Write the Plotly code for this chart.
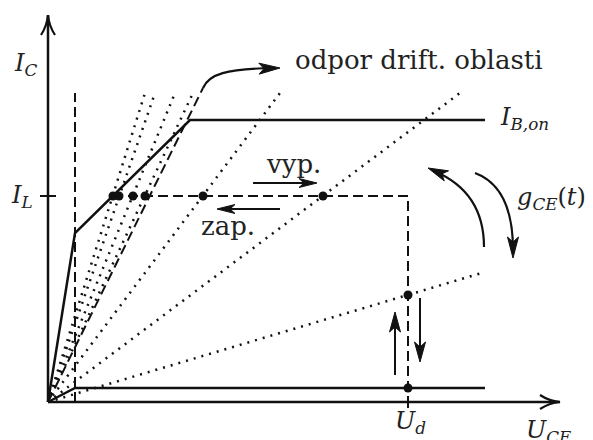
import math
import plotly.graph_objects as go

# schematic output characteristics, drawing units (U_CE right, I_C up)
ib_on_u = [0, 27, 142, 437]
ib_on_i = [0, 169, 282, 282]
ib_off_u = [0, 27, 437]
ib_off_i = [0, 14, 14]
drift_u = [0, 155]
drift_i = [0, 314]
gce_u = [97, 107, 127, 145, 232, 412, 437]   # ends of g_CE(t) lines
gce_i = [309, 309, 309, 309, 309, 309, 130]
sat_u = [27, 27]
sat_i = [0, 309]
path_u = [65, 360, 360]                      # switching trajectory
path_i = [206, 206, 0]
pts_u = [65, 71, 85, 97, 155, 275, 360, 360]
pts_i = [206, 206, 206, 206, 206, 206, 107, 14]
I_L = 206
U_d = 360
u_max, i_max = 512, 387

LINE = '#111111'
TXT = '#222222'
SERIF = 'DejaVu Serif'

fig = go.Figure()
shapes = []


def seg(us, vs, **line):
    fig.add_trace(go.Scatter(x=us, y=vs, mode='lines',
                             line=dict(color=LINE, **line), hoverinfo='skip'))


def head(x, y, dx, dy, L=19, w=5.5, notch=5):
    n = math.hypot(dx, dy)
    dx, dy = dx / n, dy / n
    px, py = -dy, dx
    bx, by = x - L * dx, y - L * dy
    nx, ny = x - (L - notch) * dx, y - (L - notch) * dy
    shapes.append(dict(type='path', xref='x', yref='y',
                       path=f"M {x},{y} L {bx + w * px},{by + w * py} L {nx},{ny} "
                            f"L {bx - w * px},{by - w * py} Z",
                       fillcolor=LINE, line=dict(color=LINE, width=1)))


def open_head(x, y, dx, dy, L=20, w=7):
    n = math.hypot(dx, dy)
    dx, dy = dx / n, dy / n
    px, py = -dy, dx
    bx, by = x - L * dx, y - L * dy
    cx, cy = x - 0.55 * L * dx, y - 0.55 * L * dy
    shapes.append(dict(type='path', xref='x', yref='y',
                       path=f"M {bx + w * px},{by + w * py} Q {cx + 0.15 * w * px},{cy + 0.15 * w * py} {x},{y} "
                            f"Q {cx - 0.15 * w * px},{cy - 0.15 * w * py} {bx - w * px},{by - w * py}",
                       line=dict(color=LINE, width=2.2)))


def curve(path):
    shapes.append(dict(type='path', xref='x', yref='y', path=path,
                       line=dict(color=LINE, width=2.2)))


# fan of conductance lines g_CE(t)
xs, ys = [], []
for u, i in zip(gce_u, gce_i):
    xs += [0, u, None]
    ys += [0, i, None]
seg(xs, ys, width=2.5, dash='2px,6px')

seg(sat_u, sat_i, width=2, dash='10px,5px')
seg(drift_u, drift_i, width=2, dash='10px,5px')
seg(path_u, path_i, width=2, dash='10px,5px')
seg(ib_on_u, ib_on_i, width=2.5)
seg(ib_off_u, ib_off_i, width=2.5)

# axes and ticks
seg([0, u_max], [0, 0], width=2.5)
seg([0, 0], [0, i_max], width=2.5)
open_head(u_max, 0, 1, 0)
open_head(0, i_max, 0, 1)
seg([-8, 8], [I_L, I_L], width=2)
seg([U_d, U_d], [-6, 0], width=2)

fig.add_trace(go.Scatter(x=pts_u, y=pts_i, mode='markers',
                         marker=dict(color=LINE, size=9), hoverinfo='skip'))

# straight arrows
seg([205, 258], [219, 219], width=2)
head(269, 219, 1, 0, L=18, w=4.5)
seg([232, 180], [193, 193], width=2)
head(169, 193, -1, 0, L=18, w=4.5)
seg([347, 347], [27, 80], width=2)
head(347, 90, 0, 1, L=20, w=5.5)
seg([372, 372], [104, 52], width=2)
head(372, 40, 0, -1, L=20, w=5.5)

# curved arrows
curve("M 155,314 C 161,328 178,333 225,334")
head(232, 334, 1, 0.03, L=21, w=5.5)
curve("M 436,155 Q 436,210 386,231")
head(380, 234, -56, 24, L=20, w=5.5)
curve("M 427,229 Q 465,215 465,152")
head(465, 144, 0, -1, L=21, w=5.5)


def label(x, y, text, size, xanchor='center', yanchor='middle'):
    fig.add_annotation(x=x, y=y, text=text, showarrow=False, xanchor=xanchor, yanchor=yanchor,
                       font=dict(family=SERIF, size=size, color=TXT))


label(245, 342, 'odpor drift. oblasti', 26, xanchor='left')
label(245, 238, 'vyp.', 26)
label(180, 176, 'zap.', 26)
label(-23, 338, '<i>I</i><sub><i>C</i></sub>', 24)
label(-26, 206, '<i>I</i><sub><i>L</i></sub>', 24)
label(450, 284, '<i>I</i><sub><i>B,on</i></sub>', 24, xanchor='left')
label(467, 204, '<i>g</i><sub><i>CE</i></sub>(<i>t</i>)', 24, xanchor='left')
label(362, -20, '<i>U</i><sub><i>d</i></sub>', 24)
label(500, -12, '<i>U</i><sub><i>CE</i></sub>', 24, yanchor='top')

# page body adds an 8px offset, so the ranges are shifted to keep the origin in place
fig.update_layout(
    width=593, height=440,
    margin=dict(l=0, r=0, t=0, b=0),
    paper_bgcolor='white', plot_bgcolor='white',
    showlegend=False,
    shapes=shapes,
    xaxis=dict(range=[-40, 553], visible=False, fixedrange=True),
    yaxis=dict(range=[-46, 394], visible=False, fixedrange=True),
)

fig.write_html("out.html")
